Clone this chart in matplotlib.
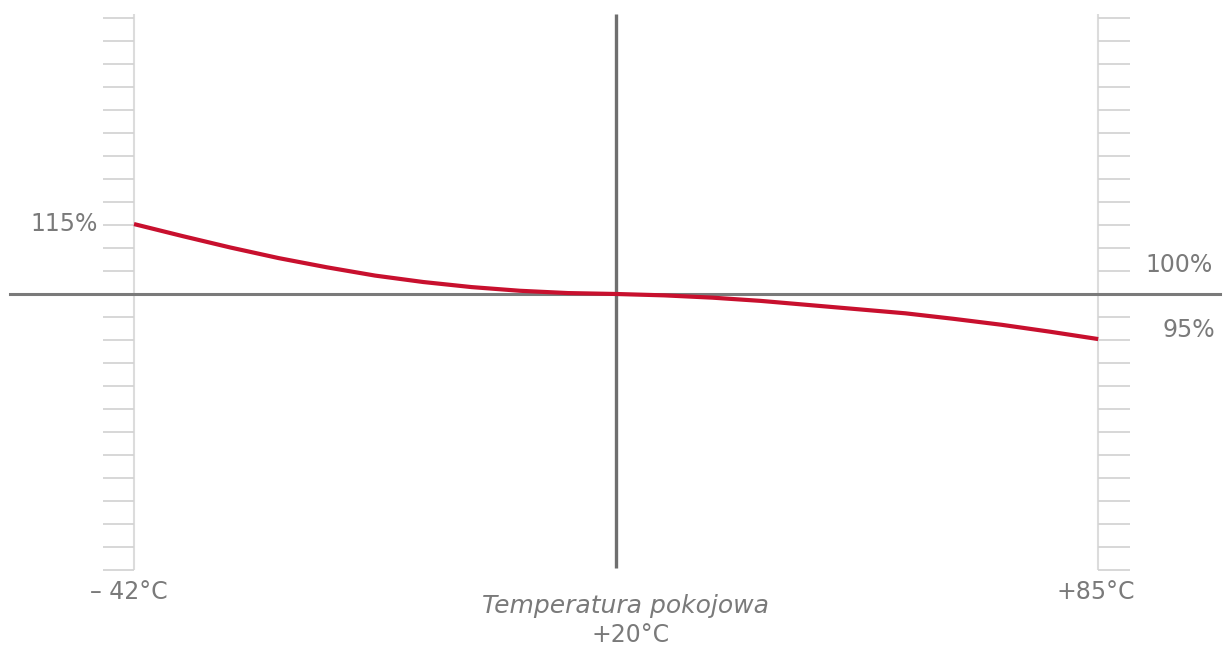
import numpy as np
from matplotlib import pyplot as plt

# schematic horizontal positions: -42C -> -1, room temp -> 0, +85C -> +1
curve_x = [-1.0, -0.9, -0.8, -0.7, -0.6, -0.5, -0.4, -0.3, -0.2, -0.1, 0.0,
           0.1, 0.2, 0.3, 0.4, 0.5, 0.6, 0.7, 0.8, 0.9, 1.0]
# relative value in percent (one scale tick = 5 %)
curve_y = [115.2, 112.6, 110.1, 107.8, 105.8, 104.0, 102.6, 101.5, 100.7, 100.2, 100.0,
           99.7, 99.2, 98.5, 97.6, 96.7, 95.8, 94.6, 93.3, 91.8, 90.2]

temp_labels = ['\u2013 42\u00b0C', 'Temperatura pokojowa\n+20\u00b0C', '+85\u00b0C']
temp_pos = [-1.0, 0.0, 1.0]
tick_values = np.arange(40, 161, 5)

plt.rcParams['font.family'] = ['DejaVu Sans']
text_col = '#7a7a7a'
fs = 17

fig = plt.figure(figsize=(12.25, 6.51), dpi=100)
ax = fig.add_axes([0, 0, 1, 1])
ax.set_xlim(-1.278, 1.263)
ax.set_ylim(22.4, 163.9)
ax.axis('off')

# side scales with ticks
ax.vlines([-1.0, 1.0], 40, 160.8, color='#dcdcdc', lw=1.5, zorder=1)
ax.hlines(tick_values, -1.065, -1.0, color='#d4d4d4', lw=1.3, zorder=1)
ax.hlines(tick_values, 1.0, 1.066, color='#d4d4d4', lw=1.3, zorder=1)

# main axes
ax.vlines(0.0, 40.4, 160.8, color='#6f6f6f', lw=2.4, zorder=2)
ax.axhline(100, xmin=0.008, xmax=0.996, color='#7a7a7a', lw=2.2, zorder=2)

# curve
ax.plot(curve_x, curve_y, color='#c8102e', lw=3.0, zorder=3,
        solid_capstyle='butt', solid_joinstyle='round')

# labels
ax.text(-1.146, 115.2, '115%', ha='center', va='center', fontsize=fs, color=text_col)
ax.text(1.168, 106.3, '100%', ha='center', va='center', fontsize=fs, color=text_col)
ax.text(1.187, 92.2, '95%', ha='center', va='center', fontsize=fs, color=text_col)

ax.text(temp_pos[0] - 0.01, 35.3, temp_labels[0], ha='center', va='center',
        fontsize=fs, color=text_col)
ax.text(temp_pos[2] - 0.005, 35.3, temp_labels[2], ha='center', va='center',
        fontsize=fs, color=text_col)
top, bottom = temp_labels[1].split('\n')
ax.text(temp_pos[1] + 0.02, 32.2, top, ha='center', va='center',
        fontsize=fs + 1, color=text_col, style='italic')
ax.text(temp_pos[1] + 0.03, 25.9, bottom, ha='center', va='center',
        fontsize=fs, color=text_col)

plt.savefig('out.png', dpi=100)
plt.close()
